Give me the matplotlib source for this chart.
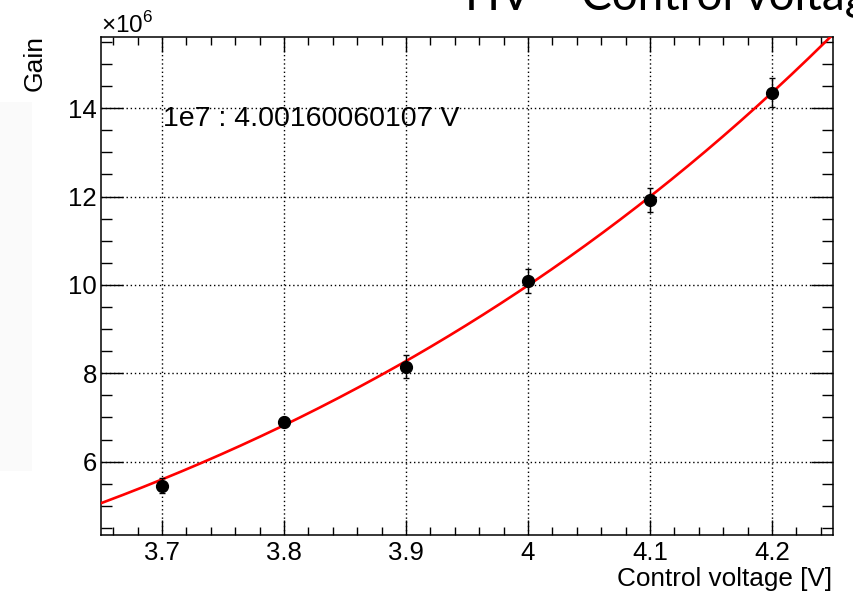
import numpy as np
import matplotlib
matplotlib.use("Agg")
import matplotlib.pyplot as plt
from matplotlib.ticker import MultipleLocator, FuncFormatter
from matplotlib.patches import Rectangle

# gain vs control voltage (gain in units of 1e6)
voltage = [3.7, 3.8, 3.9, 4.0, 4.1, 4.2]
gain_e6 = [5.46, 6.90, 8.15, 10.08, 11.93, 14.35]
gain_err_e6 = [0.18, 0.12, 0.26, 0.27, 0.27, 0.33]
fit_label = "1e7 : 4.00160060107 V"

plt.rcParams['font.family'] = ['Liberation Sans', 'DejaVu Sans']
plt.rcParams['mathtext.fontset'] = 'custom'
plt.rcParams['mathtext.rm'] = 'Liberation Sans'

fig = plt.figure(figsize=(8.54, 5.92), dpi=100)

# light strip on the left, part of the slide
fig.add_artist(Rectangle((0, 121 / 592), 32 / 854, 369 / 592, transform=fig.transFigure,
                         facecolor='#fafafa', edgecolor='none', zorder=0))

ax = fig.add_axes([101 / 854, 57 / 592, 732 / 854, 498 / 592])
ax.set_xlim(3.65, 4.25)
ax.set_ylim(4.34, 15.61)

# power-law fit  G = A * V^n  (fit in log-log space, weighted by errors)
v = np.array(voltage)
g = np.array(gain_e6)
e = np.array(gain_err_e6)
n, lnA = np.polyfit(np.log(v), np.log(g), 1, w=g / e)
vv = np.linspace(3.65, 4.25, 300)
ax.plot(vv, np.exp(lnA) * vv ** n, color='#ff0000', lw=1.9, zorder=3)

ax.errorbar(voltage, gain_e6, yerr=gain_err_e6, fmt='o', color='black', ms=8.5,
            elinewidth=1.0, capsize=2.5, capthick=1.0, zorder=4)

ax.grid(True, which='major', color='black', linestyle=(0, (1, 2)), linewidth=1.0)
ax.set_axisbelow(True)

ax.xaxis.set_major_locator(MultipleLocator(0.1))
ax.xaxis.set_minor_locator(MultipleLocator(0.02))
ax.yaxis.set_major_locator(MultipleLocator(2))
ax.yaxis.set_minor_locator(MultipleLocator(0.5))
ax.xaxis.set_major_formatter(FuncFormatter(lambda x, p: '%g' % round(x, 3)))
ax.yaxis.set_major_formatter(FuncFormatter(lambda y, p: '%g' % round(y, 3)))

ax.tick_params(axis='both', which='both', direction='in', top=True, right=True,
               labelsize=18.5, width=1.0, color='black')
ax.tick_params(axis='x', which='major', length=11, pad=4)
ax.tick_params(axis='x', which='minor', length=5.5)
ax.tick_params(axis='y', which='major', length=16, pad=3)
ax.tick_params(axis='y', which='minor', length=8)
for s in ax.spines.values():
    s.set_linewidth(1.1)

ax.text(62 / 732, (535 - 119) / 498, fit_label, transform=ax.transAxes,
        fontsize=20.5, ha='left', va='center')

fig.text(101 / 854, 1 - 33 / 592, '×10$^{6}$', fontsize=17.5, ha='left', va='baseline')
fig.text(832 / 854, 1 - 586 / 592, 'Control voltage [V]', fontsize=18.8, ha='right', va='baseline')
fig.text(47 / 854, 1 - 35 / 592, 'Gain', fontsize=19, rotation=90, ha='right', va='top')

fig.text(465 / 854, 1 - 10 / 592, 'HV – Control voltage', fontsize=33,
         family=['Lato', 'DejaVu Sans'], ha='left', va='baseline')

fig.savefig('out.png', dpi=100)
